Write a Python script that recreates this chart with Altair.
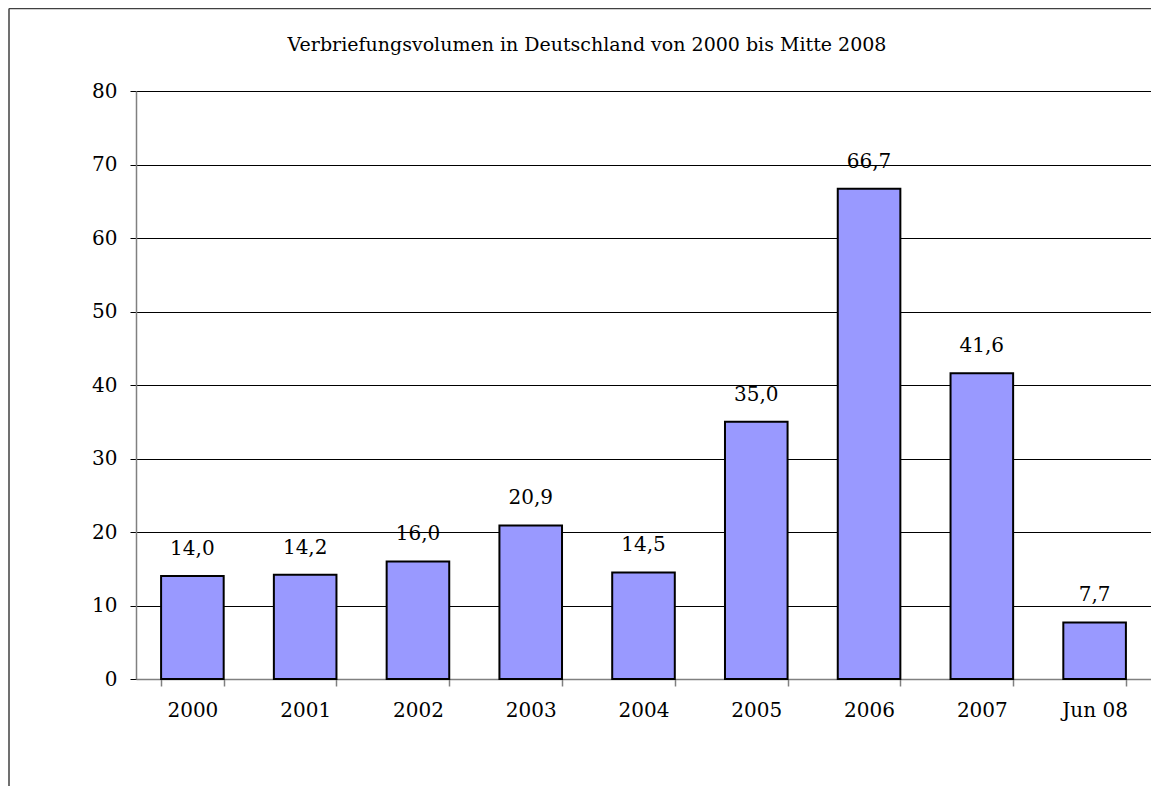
import altair as alt
import pandas as pd

categories = ["2000", "2001", "2002", "2003", "2004", "2005", "2006", "2007", "Jun 08"]
values = [14.0, 14.2, 16.0, 20.9, 14.5, 35.0, 66.7, 41.6, 7.7]
y_ticks = [0, 10, 20, 30, 40, 50, 60, 70, 80]
title_text = "Verbriefungsvolumen in Deutschland von 2000 bis Mitte 2008"

df = pd.DataFrame({
    "cat": categories,
    "val": values,
    "label": [f"{v:.1f}".replace(".", ",") for v in values],
})

FONT = "DejaVu Serif"
W, H = 1015, 588

x_enc = alt.X("cat:N", sort=categories, title=None,
              scale=alt.Scale(paddingInner=0.445, paddingOuter=0.2225),
              axis=alt.Axis(labelAngle=0, labelFont=FONT, labelFontSize=20, labelColor="black",
                            domainColor="#808080", domainWidth=1.5, tickColor="#808080",
                            tickWidth=1.5, tickSize=7, tickBand="extent", labelPadding=14,
                            grid=False))
y_enc = alt.Y("val:Q", title=None,
              scale=alt.Scale(domain=[0, 80], nice=False),
              axis=alt.Axis(values=y_ticks, labelFont=FONT, labelFontSize=20, labelColor="black",
                            domainColor="#808080", domainWidth=1.5, tickColor="black",
                            tickSize=6, labelPadding=13, grid=True, gridColor="black",
                            gridWidth=1, gridOpacity=1))

bars = alt.Chart(df).mark_bar(color="#9999FF", stroke="black", strokeWidth=2).encode(
    x=x_enc, y=y_enc)

labels = alt.Chart(df).mark_text(font=FONT, fontSize=20, color="black", baseline="alphabetic",
                                 dy=-21).encode(
    x=alt.X("cat:N", sort=categories), y="val:Q", text="label:N")

title = alt.Chart(pd.DataFrame({"t": [title_text]})).mark_text(
    font=FONT, fontSize=19, color="black", baseline="alphabetic", align="center").encode(
    x=alt.value(451), y=alt.value(-40), text="t:N")

frame_left = alt.Chart(pd.DataFrame({"a": [0]})).mark_rule(color="#404040", strokeWidth=1.5).encode(
    x=alt.value(-127), y=alt.value(-82.5), y2=alt.value(H + 107))
frame_top = alt.Chart(pd.DataFrame({"a": [0]})).mark_rule(color="#404040", strokeWidth=1.5).encode(
    x=alt.value(-127), x2=alt.value(W + 10), y=alt.value(-82.5))

chart = alt.layer(bars, labels, title, frame_left, frame_top).properties(
    width=W, height=H,
    autosize=alt.AutoSizeParams(type="none"),
    padding={"left": 128, "top": 83, "right": 0, "bottom": 107},
).configure_view(stroke=None).configure(background="white")

chart.save("out.html", embed_options={"renderer": "svg", "actions": False})
